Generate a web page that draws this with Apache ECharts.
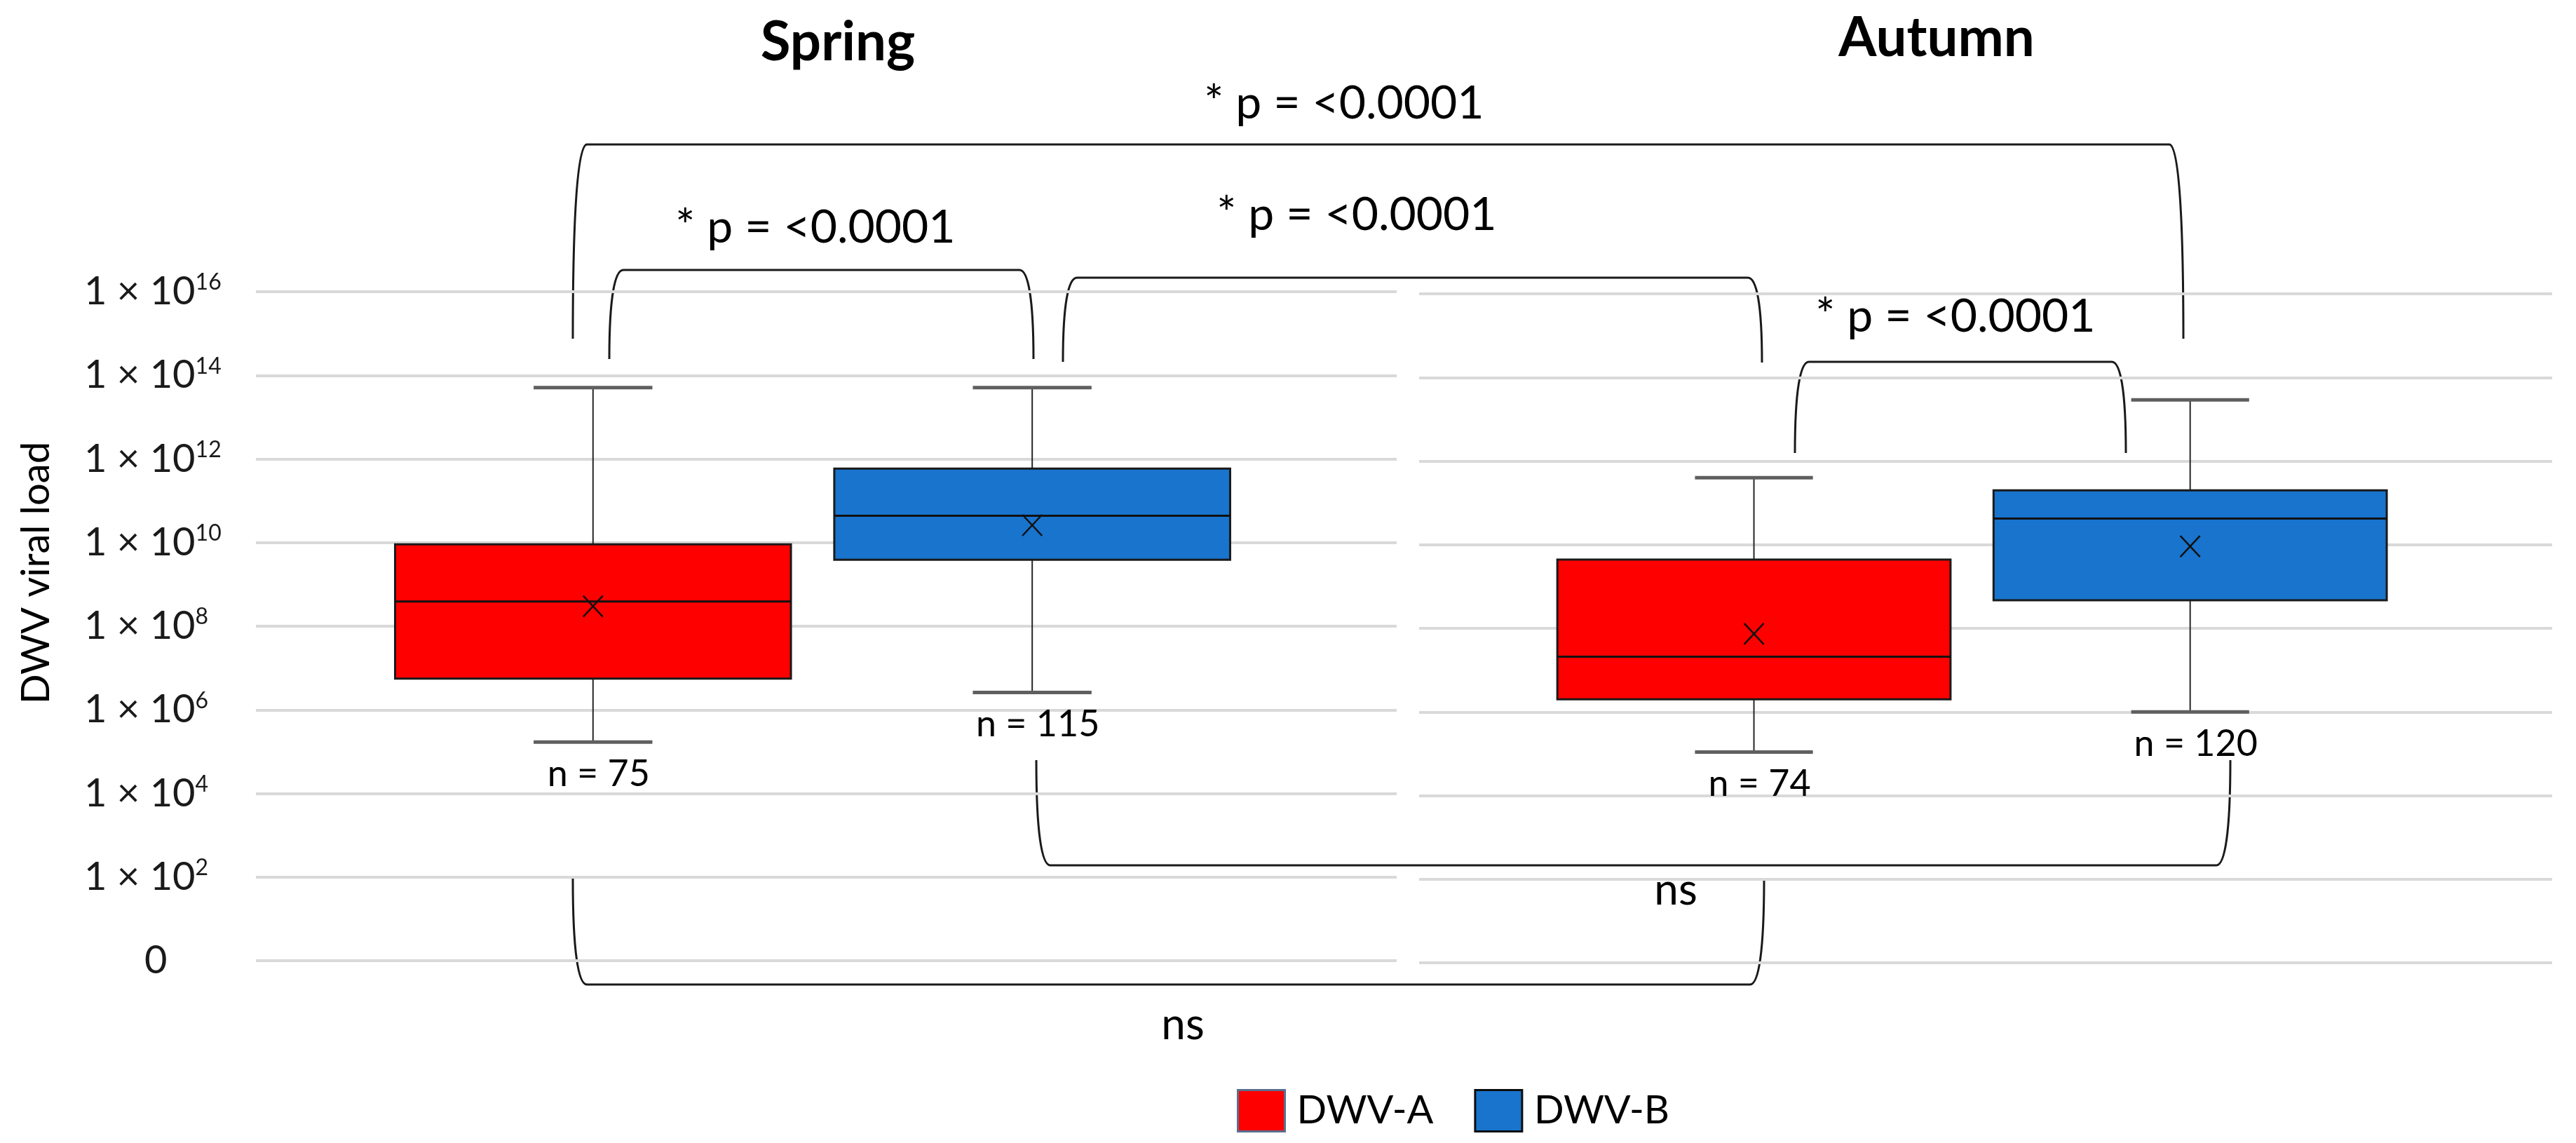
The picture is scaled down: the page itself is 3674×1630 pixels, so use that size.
<!DOCTYPE html>
<html>
<head>
    <meta charset="utf-8">
    <title>DWV viral load</title>
    <script src="https://cdn.jsdelivr.net/npm/echarts@6/dist/echarts.min.js"></script>
    <style>
        html, body { margin: 0; padding: 0; background: #fff; }
        #chart { width: 3674px; height: 1630px; }
    </style>
</head>
<body>
<div id="chart"></div>
<script>
    var FONT = 'Lato';

    var seasons = ['Spring', 'Autumn'];
    var variants = ['DWV-A', 'DWV-B'];
    // min, Q1, median, Q3, max
    var springA = [1.7e5, 5.6e6, 3.9e8, 9.1e9, 5.1e13];
    var springB = [2.6e6, 3.9e9, 4.4e10, 5.9e11, 5.1e13];
    var autumnA = [1.1e5, 2.0e6, 2.1e7, 4.4e9, 4.0e11];
    var autumnB = [1.0e6, 4.7e8, 4.2e10, 2.0e11, 2.9e13];
    // mean (x marker), by season
    var meanA = [3.0e8, 7.4e7];
    var meanB = [2.6e10, 9.1e9];
    // sample sizes, by season
    var countA = [75, 74];
    var countB = [115, 120];

    var colors = ['#ff0000', '#1874cd'];
    // box centre offset from the band centre, as a share of the band
    var boxShift = [-0.2045, 0.1805];

    // significance annotations (drawn on top, in page pixels)
    var bracketsTop = [
        { x1: 817, x2: 3114, yt: 206, yb1: 483, yb2: 483, label: '* p = <0.0001', lx: 1917, ly: 148 },
        { x1: 869, x2: 1474, yt: 385, yb1: 512, yb2: 512, label: '* p = <0.0001', lx: 1163, ly: 325 },
        { x1: 1516, x2: 2513, yt: 396, yb1: 516, yb2: 517, label: '* p = <0.0001', lx: 1935, ly: 307 },
        { x1: 2560, x2: 3032, yt: 516, yb1: 646, yb2: 646, label: '* p = <0.0001', lx: 2789, ly: 452 }
    ];
    var bracketsBottom = [
        { x1: 1478, x2: 3181, yb: 1234, yt1: 1084, yt2: 1084, label: 'ns', lx: 2390, ly: 1270 },
        { x1: 817, x2: 2516, yb: 1404, yt1: 1253, yt2: 1253, label: 'ns', lx: 1687, ly: 1462 }
    ];

    function boxRenderer(shift, color) {
        return function (params, api) {
            var cat = api.value(0);
            var band = api.size([1, 0], [cat, 10])[0];
            var cx = api.coord([cat, 10])[0] + band * shift;
            var w = band * 0.347;
            var cap = w * 0.15;
            var y = function (i) { return api.coord([cat, api.value(i)])[1]; };
            var yMin = y(1), yQ1 = y(2), yMed = y(3), yQ3 = y(4), yMax = y(5), yMean = y(6);
            var line = function (x1, y1, x2, y2, stroke, lw) {
                return { type: 'line', shape: { x1: x1, y1: y1, x2: x2, y2: y2 }, style: { stroke: stroke, lineWidth: lw } };
            };
            return {
                type: 'group',
                children: [
                    line(cx, yMax, cx, yQ3, '#262626', 2),
                    line(cx, yQ1, cx, yMin, '#262626', 2),
                    line(cx - cap, yMax, cx + cap, yMax, '#5f5f5f', 5),
                    line(cx - cap, yMin, cx + cap, yMin, '#5f5f5f', 5),
                    {
                        type: 'rect',
                        shape: { x: cx - w / 2, y: yQ3, width: w, height: yQ1 - yQ3 },
                        style: { fill: color, stroke: '#1a1a1a', lineWidth: 3 }
                    },
                    line(cx - w / 2, yMed, cx + w / 2, yMed, '#111', 3),
                    line(cx - 14, yMean - 15, cx + 14, yMean + 15, '#111', 2.5),
                    line(cx - 14, yMean + 15, cx + 14, yMean - 15, '#111', 2.5),
                    {
                        type: 'text', x: cx + 8, y: yMin + 46,
                        style: {
                            text: 'n = ' + api.value(7), fill: '#000',
                            fontSize: 52, fontFamily: FONT,
                            align: 'center', verticalAlign: 'middle',
                            textAlign: 'center', textVerticalAlign: 'middle'
                        }
                    }
                ]
            };
        };
    }

    function boxSeries(v, grid, box, mean, n) {
        return {
            name: variants[v],
            type: 'custom',
            xAxisIndex: grid,
            yAxisIndex: grid,
            itemStyle: { color: colors[v] },
            renderItem: boxRenderer(boxShift[v], colors[v]),
            encode: { x: 0, y: [1, 2, 3, 4, 5, 6] },
            data: [[0].concat(box, [mean, n])],
            silent: true
        };
    }

    var stl = { stroke: '#1a1a1a', lineWidth: 3, fill: null };

    function topBracket(b) {
        var d = 20;
        return [
            { type: 'bezierCurve', shape: { x1: b.x1, y1: b.yb1, cpx1: b.x1, cpy1: b.yt + (b.yb1 - b.yt) * 0.3, cpx2: b.x1 + d * 0.4, cpy2: b.yt, x2: b.x1 + d, y2: b.yt }, style: stl },
            { type: 'line', shape: { x1: b.x1 + d, y1: b.yt, x2: b.x2 - d, y2: b.yt }, style: stl },
            { type: 'bezierCurve', shape: { x1: b.x2 - d, y1: b.yt, cpx1: b.x2 - d * 0.4, cpy1: b.yt, cpx2: b.x2, cpy2: b.yt + (b.yb2 - b.yt) * 0.3, x2: b.x2, y2: b.yb2 }, style: stl },
            textEl(b.label, b.lx, b.ly, 66, 'normal')
        ];
    }

    function bottomBracket(b) {
        var d = 20;
        return [
            { type: 'bezierCurve', shape: { x1: b.x1, y1: b.yt1, cpx1: b.x1, cpy1: b.yb - (b.yb - b.yt1) * 0.3, cpx2: b.x1 + d * 0.4, cpy2: b.yb, x2: b.x1 + d, y2: b.yb }, style: stl },
            { type: 'line', shape: { x1: b.x1 + d, y1: b.yb, x2: b.x2 - d, y2: b.yb }, style: stl },
            { type: 'bezierCurve', shape: { x1: b.x2 - d, y1: b.yb, cpx1: b.x2 - d * 0.4, cpy1: b.yb, cpx2: b.x2, cpy2: b.yb - (b.yb - b.yt2) * 0.3, x2: b.x2, y2: b.yt2 }, style: stl },
            textEl(b.label, b.lx, b.ly, 62, 'normal')
        ];
    }

    function textEl(text, x, y, size, weight, rotation) {
        return {
            type: 'text', x: x, y: y, rotation: rotation || 0, z: 100,
            style: {
                text: text, fill: '#000', fontSize: size, fontFamily: FONT, fontWeight: weight,
                align: 'center', verticalAlign: 'middle', textAlign: 'center', textVerticalAlign: 'middle'
            }
        };
    }

    var graphics = [
        textEl(seasons[0], 1195, 61, 78, 'bold'),
        textEl(seasons[1], 2762, 55, 78, 'bold'),
        textEl('DWV viral load', 52, 817, 56, 'normal', Math.PI / 2)
    ];
    bracketsTop.forEach(function (b) { graphics = graphics.concat(topBracket(b)); });
    bracketsBottom.forEach(function (b) { graphics = graphics.concat(bottomBracket(b)); });

    var yLabel = {
        margin: 245,
        align: 'left',
        color: '#1a1a1a',
        fontFamily: FONT,
        formatter: function (v) {
            var e = Math.round(Math.log10(v));
            return e === 0 ? '{z|0}' : '{b|1 × 10}{s|' + e + '}';
        },
        rich: {
            b: { fontSize: 56, fontFamily: FONT, color: '#1a1a1a' },
            s: { fontSize: 32, fontFamily: FONT, color: '#1a1a1a', padding: [0, 0, 26, 0] },
            z: { fontSize: 56, fontFamily: FONT, color: '#1a1a1a', padding: [0, 0, 0, 86] }
        }
    };

    var chart = echarts.init(document.getElementById('chart'));
    chart.setOption({
        backgroundColor: '#fff',
        animation: false,
        textStyle: { fontFamily: FONT },
        grid: [
            { left: 365, top: 416, width: 1627, height: 954 },
            { left: 2024, top: 419, width: 1616, height: 954 }
        ],
        xAxis: [0, 1].map(function (i) {
            return { gridIndex: i, type: 'category', data: [seasons[i]], show: false };
        }),
        yAxis: [0, 1].map(function (i) {
            return {
                gridIndex: i,
                type: 'log',
                logBase: 100,
                min: 1,
                max: 1e16,
                splitNumber: 8,
                axisLine: { show: false },
                axisTick: { show: false },
                splitLine: { lineStyle: { color: '#d9d9d9', width: 4 } },
                axisLabel: i === 0 ? yLabel : { show: false }
            };
        }),
        legend: {
            data: [
                { name: variants[0], itemStyle: { borderColor: '#5b6f8f', borderWidth: 3 } },
                { name: variants[1], itemStyle: { borderColor: '#0d0d0d', borderWidth: 3 } }
            ],
            left: 1764,
            top: 1553,
            padding: 0,
            icon: 'rect',
            itemWidth: 67,
            itemHeight: 59,
            itemGap: 58,
            selectedMode: false,
            textStyle: { fontFamily: FONT, fontSize: 56, color: '#000', padding: [0, 0, 0, 12] }
        },
        graphic: graphics,
        series: [
            boxSeries(0, 0, springA, meanA[0], countA[0]),
            boxSeries(1, 0, springB, meanB[0], countB[0]),
            boxSeries(0, 1, autumnA, meanA[1], countA[1]),
            boxSeries(1, 1, autumnB, meanB[1], countB[1])
        ]
    });
</script>
</body>
</html>
